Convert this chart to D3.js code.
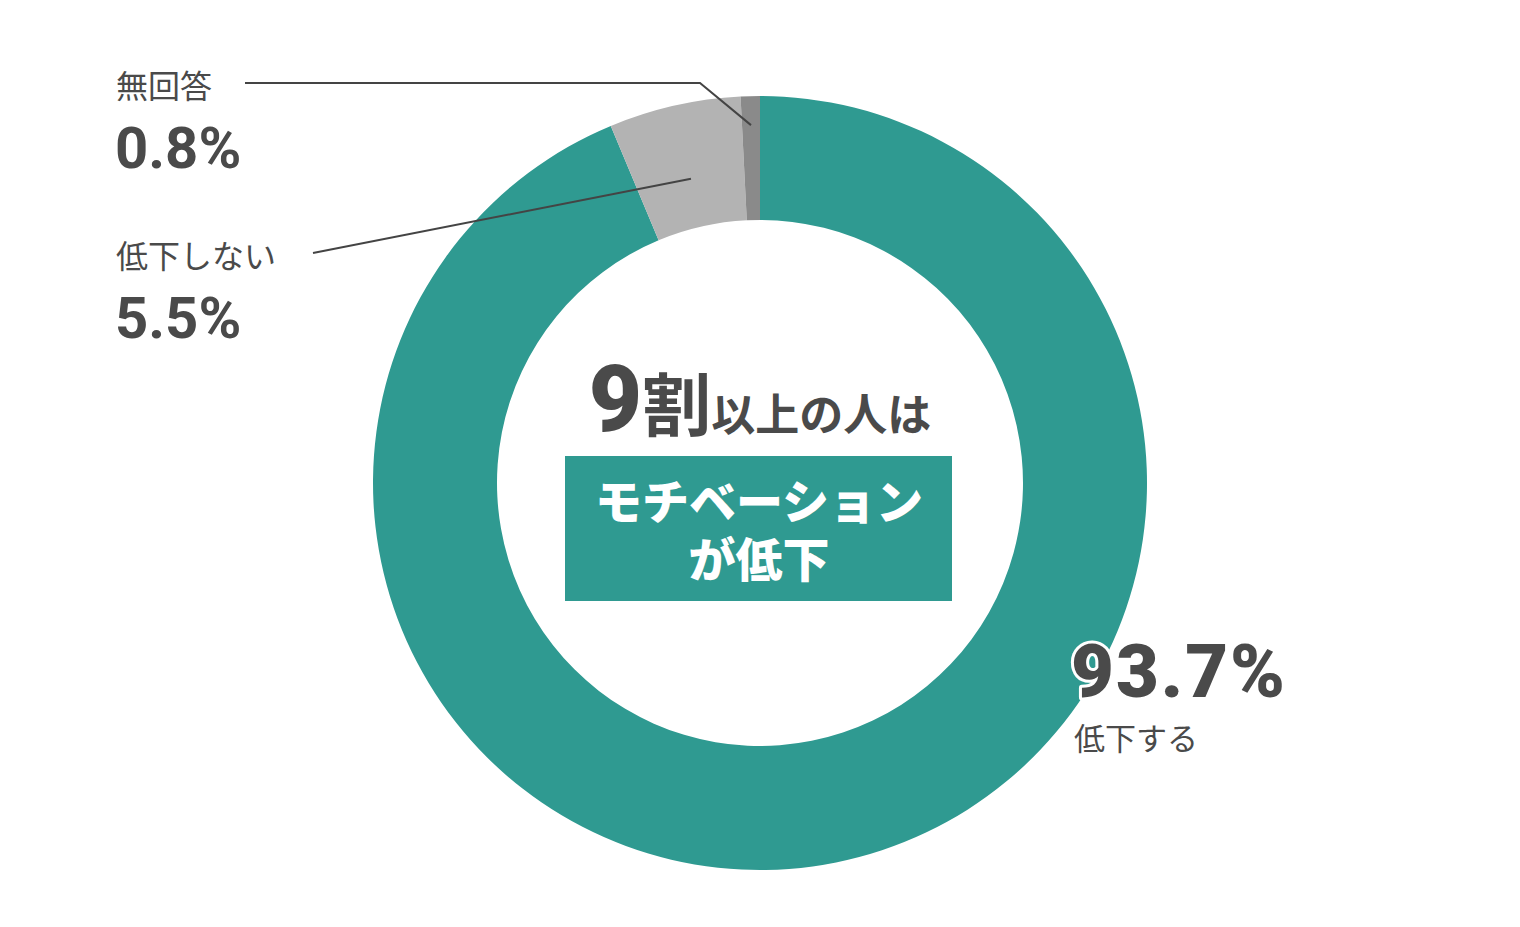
<!DOCTYPE html>
<html><head><meta charset="utf-8">
<script src="https://cdn.jsdelivr.net/npm/d3@7"></script>
<style>
html,body{margin:0;padding:0;background:#fff;}
svg{display:block;}
</style></head>
<body>
<svg id="chart" width="1520" height="927"></svg>
<script>
const categories = ["低下する", "低下しない", "無回答"];
const values = [93.7, 5.5, 0.8];
const valueLabels = ["93.7%", "5.5%", "0.8%"];
const colors = ["#2f9a91", "#b3b3b3", "#8a8a8a"];
const centerTitle = ["9", "割", "以上の人は"];
const boxLines = ["モチベーション", "が低下"];

const svg = d3.select("#chart");
const cx = 760, cy = 483, rOuter = 387, rInner = 263;
const jp = "'Noto Sans CJK JP','Noto Sans',sans-serif";
const num = "Roboto,'Noto Sans',sans-serif";
const textColor = "#4a4a4a";

const data = categories.map((c, i) => ({cat: c, value: values[i], label: valueLabels[i], color: colors[i]}));
const pie = d3.pie().value(d => d.value).sort(null);
const arcs = pie(data);
const arc = d3.arc().innerRadius(rInner).outerRadius(rOuter);

const g = svg.append("g").attr("transform", `translate(${cx},${cy})`);
g.selectAll("path").data(arcs).join("path").attr("d", arc).attr("fill", d => d.data.color);

// leader lines
function pointAt(a, r) {
  const ang = (a.startAngle + a.endAngle) / 2;
  return [cx + r * Math.sin(ang), cy - r * Math.cos(ang)];
}
const pNo = pointAt(arcs[2], 358);
svg.append("path")
  .attr("d", d3.line()([[245, 83], [700, 83], pNo]))
  .attr("fill", "none").attr("stroke", "#444").attr("stroke-width", 2);
const pNot = pointAt(arcs[1], 312);
svg.append("path")
  .attr("d", d3.line()([[313, 253], pNot]))
  .attr("fill", "none").attr("stroke", "#444").attr("stroke-width", 2);

// left labels
const leftLabels = [
  {cat: arcs[2].data.cat, val: arcs[2].data.label, y: 98},
  {cat: arcs[1].data.cat, val: arcs[1].data.label, y: 268}
];
leftLabels.forEach(l => {
  svg.append("text").attr("x", 116).attr("y", l.y).attr("font-family", jp)
    .attr("font-size", 32).attr("fill", textColor).text(l.cat);
  svg.append("text").attr("x", 115).attr("y", l.y + 70).attr("font-family", num)
    .attr("font-weight", 700).attr("font-size", 58).attr("fill", textColor)
    .attr("letter-spacing", 0).text(l.val);
});

// main label with white halo
svg.append("text").attr("x", 1071).attr("y", 697).attr("font-family", num)
  .attr("font-weight", 900).attr("font-size", 74).attr("fill", textColor)
  .attr("letter-spacing", 2)
  .attr("stroke", "#fff").attr("stroke-width", 6).attr("paint-order", "stroke")
  .attr("stroke-linejoin", "round").text(arcs[0].data.label);
svg.append("text").attr("x", 1074).attr("y", 750).attr("font-family", jp)
  .attr("font-size", 31).attr("fill", textColor).text(arcs[0].data.cat);

// center title
const t = svg.append("text").attr("x", 760).attr("y", 431).attr("text-anchor", "middle")
  .attr("font-family", jp).attr("font-weight", 700).attr("fill", textColor);
t.append("tspan").attr("font-size", 92).attr("font-family", num).attr("font-weight", 900).text(centerTitle[0]);
t.append("tspan").attr("font-size", 69).text(centerTitle[1]);
t.append("tspan").attr("font-size", 44).text(centerTitle[2]);

// box
svg.append("rect").attr("x", 565).attr("y", 456).attr("width", 387).attr("height", 145).attr("fill", colors[0]);
const bt = svg.append("text").attr("text-anchor", "middle")
  .attr("font-family", jp).attr("font-weight", 900).attr("font-size", 47)
  .attr("fill", "#fff");
boxLines.forEach((s, i) => {
  bt.append("tspan").attr("x", 759).attr("y", 519 + i * 58).text(s);
});
</script>
</body></html>
